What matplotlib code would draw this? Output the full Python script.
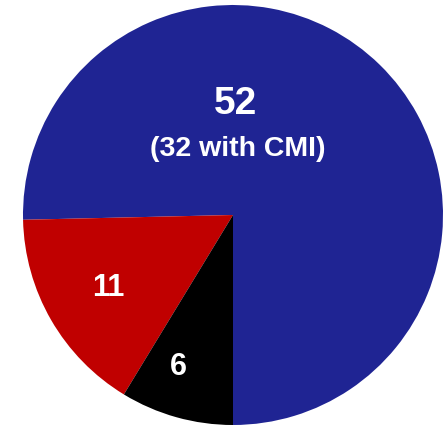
import matplotlib
matplotlib.use("Agg")
import matplotlib.pyplot as plt

categories = ["Main", "Second", "Third"]
values = [52, 11, 6]
labels = ["52", "11", "6"]
sub_label = "(32 with CMI)"
colors = ["#1F2493", "#C00000", "#000000"]

W, H = 445, 425
fig = plt.figure(figsize=(W / 100, H / 100), dpi=100)
cx, cy, r = 233, 215, 210
ax = fig.add_axes([(cx - r) / W, (H - cy - r) / H, 2 * r / W, 2 * r / H])
ax.pie(values, colors=colors, startangle=270, counterclock=True, radius=1,
       wedgeprops=dict(linewidth=0))
ax.set_xlim(-1, 1)
ax.set_ylim(-1, 1)
ax.set_aspect("equal")
ax.axis("off")

font = dict(family=["Liberation Sans", "DejaVu Sans"], weight="bold", color="white",
            ha="center", va="center")
ax.text(0.01, 0.53, labels[0], fontsize=28, **font)
ax.text(0.024, 0.314, sub_label, fontsize=20.5, **font)
ax.text(-0.595, -0.348, labels[1], fontsize=22, **font)
ax.text(-0.262, -0.722, labels[2], fontsize=22, **font)

fig.savefig("out.png", dpi=100)
